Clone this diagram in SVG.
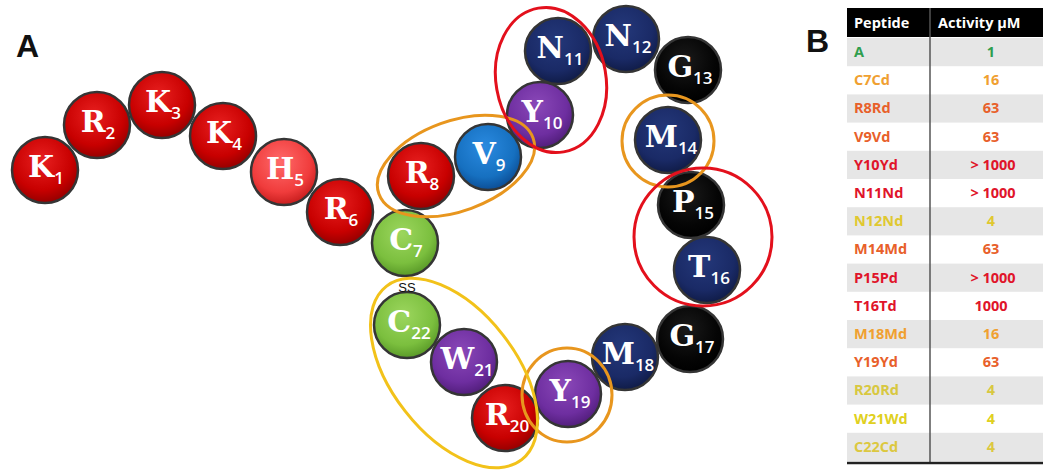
<svg xmlns="http://www.w3.org/2000/svg" width="1043" height="470" viewBox="0 0 1043 470">
<style>
.bead{stroke:#353535;stroke-width:2.5}
.L{font-family:"DejaVu Serif","Liberation Serif",serif;font-weight:bold;font-size:30px;fill:#fff;text-anchor:middle}
.s{font-family:"Open Sans","Liberation Sans",sans-serif;font-weight:600;font-size:17px}
.ring{fill:none;stroke-width:3}
.red{stroke:#e3101c}.org{stroke:#e8961e}.yel{stroke:#f2c21a}
.hd{font-family:"Open Sans","Liberation Sans",sans-serif;font-weight:bold;font-size:14.5px;fill:#fff}
.tp{font-family:"Open Sans","Liberation Sans",sans-serif;font-weight:bold;font-size:14.5px}
.tv{font-family:"Open Sans","Liberation Sans",sans-serif;font-weight:bold;font-size:14.5px;text-anchor:middle}
.lab{font-family:"Liberation Sans",Arial,sans-serif;font-weight:bold;font-size:32px;fill:#111}
</style>
<defs>
<radialGradient id="gR" cx="45%" cy="35%" r="65%"><stop offset="0" stop-color="#e82020"/><stop offset="0.7" stop-color="#c80000"/><stop offset="1" stop-color="#960000"/></radialGradient>
<radialGradient id="gH" cx="45%" cy="35%" r="65%"><stop offset="0" stop-color="#ff6a6a"/><stop offset="0.7" stop-color="#f03c3c"/><stop offset="1" stop-color="#c81e1e"/></radialGradient>
<radialGradient id="gG" cx="45%" cy="35%" r="65%"><stop offset="0" stop-color="#9cd65e"/><stop offset="0.7" stop-color="#7bbf3e"/><stop offset="1" stop-color="#5a9a28"/></radialGradient>
<radialGradient id="gB" cx="45%" cy="35%" r="65%"><stop offset="0" stop-color="#2a8ae0"/><stop offset="0.7" stop-color="#1670c0"/><stop offset="1" stop-color="#0c4e96"/></radialGradient>
<radialGradient id="gP" cx="45%" cy="35%" r="65%"><stop offset="0" stop-color="#8a48b8"/><stop offset="0.7" stop-color="#6e2ea0"/><stop offset="1" stop-color="#521e7c"/></radialGradient>
<radialGradient id="gN" cx="45%" cy="35%" r="65%"><stop offset="0" stop-color="#24387a"/><stop offset="0.7" stop-color="#1a2a66"/><stop offset="1" stop-color="#101c48"/></radialGradient>
<radialGradient id="gK" cx="45%" cy="35%" r="65%"><stop offset="0" stop-color="#1a1a1a"/><stop offset="0.7" stop-color="#050505"/><stop offset="1" stop-color="#000"/></radialGradient>
</defs>
<rect width="1043" height="470" fill="#fff"/>
<text class="lab" x="16" y="57">A</text>
<text class="lab" x="806" y="52">B</text>

<g id="nodes">
<g id="K1"><circle class="bead" cx="45" cy="170" r="33" fill="url(#gR)"/><text class="L" x="46" y="177">K<tspan class="s" dy="7">1</tspan></text></g>
<g id="R2"><circle class="bead" cx="97" cy="125" r="33" fill="url(#gR)"/><text class="L" x="98" y="132">R<tspan class="s" dy="7">2</tspan></text></g>
<g id="K3"><circle class="bead" cx="162" cy="105" r="33" fill="url(#gR)"/><text class="L" x="163" y="112">K<tspan class="s" dy="7">3</tspan></text></g>
<g id="K4"><circle class="bead" cx="223" cy="136" r="33" fill="url(#gR)"/><text class="L" x="224" y="143">K<tspan class="s" dy="7">4</tspan></text></g>
<g id="H5"><circle class="bead" cx="284" cy="172" r="33" fill="url(#gH)"/><text class="L" x="285" y="179">H<tspan class="s" dy="7">5</tspan></text></g>
<g id="R6"><circle class="bead" cx="340" cy="212" r="33" fill="url(#gR)"/><text class="L" x="341" y="219">R<tspan class="s" dy="7">6</tspan></text></g>
<g id="C7"><circle class="bead" cx="405" cy="243" r="33" fill="url(#gG)"/><text class="L" x="406" y="250">C<tspan class="s" dy="7">7</tspan></text></g>
<g id="R8"><circle class="bead" cx="421" cy="176" r="33" fill="url(#gR)"/><text class="L" x="422" y="183">R<tspan class="s" dy="7">8</tspan></text></g>
<g id="V9"><circle class="bead" cx="488" cy="157" r="33" fill="url(#gB)"/><text class="L" x="489" y="164">V<tspan class="s" dy="7">9</tspan></text></g>
<g id="Y10"><circle class="bead" cx="540" cy="115" r="33" fill="url(#gP)"/><text class="L" x="542" y="122">Y<tspan class="s" dy="7">10</tspan></text></g>
<g id="N11"><circle class="bead" cx="558" cy="51" r="33" fill="url(#gN)"/><text class="L" x="560" y="58">N<tspan class="s" dy="7">11</tspan></text></g>
<g id="N12"><circle class="bead" cx="626" cy="39" r="33" fill="url(#gN)"/><text class="L" x="628" y="46">N<tspan class="s" dy="7">12</tspan></text></g>
<g id="G13"><circle class="bead" cx="688" cy="70" r="33" fill="url(#gK)"/><text class="L" x="690" y="77">G<tspan class="s" dy="7">13</tspan></text></g>
<g id="M14"><circle class="bead" cx="668" cy="140" r="33" fill="url(#gN)"/><text class="L" x="671" y="147">M<tspan class="s" dy="7">14</tspan></text></g>
<g id="P15"><circle class="bead" cx="691" cy="205" r="33" fill="url(#gK)"/><text class="L" x="693" y="212">P<tspan class="s" dy="7">15</tspan></text></g>
<g id="T16"><circle class="bead" cx="707" cy="270" r="33" fill="url(#gN)"/><text class="L" x="709" y="277">T<tspan class="s" dy="7">16</tspan></text></g>
<g id="G17"><circle class="bead" cx="690" cy="339" r="33" fill="url(#gK)"/><text class="L" x="692" y="346">G<tspan class="s" dy="7">17</tspan></text></g>
<g id="M18"><circle class="bead" cx="625" cy="357" r="33" fill="url(#gN)"/><text class="L" x="628" y="364">M<tspan class="s" dy="7">18</tspan></text></g>
<g id="Y19"><circle class="bead" cx="568" cy="394" r="33" fill="url(#gP)"/><text class="L" x="570" y="401">Y<tspan class="s" dy="7">19</tspan></text></g>
<g id="R20"><circle class="bead" cx="505" cy="418" r="33" fill="url(#gR)"/><text class="L" x="507" y="425">R<tspan class="s" dy="7">20</tspan></text></g>
<g id="W21"><circle class="bead" cx="464" cy="362" r="33" fill="url(#gP)"/><text class="L" x="467" y="369">W<tspan class="s" dy="7">21</tspan></text></g>
<g id="C22"><circle class="bead" cx="407" cy="325" r="33" fill="url(#gG)"/><text class="L" x="409" y="332">C<tspan class="s" dy="7">22</tspan></text></g>
</g>

<g id="connectors">
<text x="407" y="292" text-anchor="middle" font-family="Liberation Sans,Arial,sans-serif" font-size="13" fill="#111">SS</text>
</g>

<g id="highlights">
<ellipse class="ring org" cx="456" cy="166" rx="82" ry="45" transform="rotate(-20 456 166)"/>
<ellipse class="ring red" cx="551" cy="80" rx="55" ry="73" transform="rotate(-10 551 80)"/>
<circle class="ring org" cx="668" cy="141" r="46"/>
<ellipse class="ring red" cx="703" cy="237" rx="69" ry="69"/>
<ellipse class="ring org" cx="567" cy="395" rx="45" ry="47"/>
<ellipse class="ring yel" cx="454" cy="373" rx="110" ry="62" transform="rotate(52 454 373)"/>
</g>

<g id="table">
<rect x="847" y="8" width="196" height="29" fill="#000"/>
<rect x="847" y="38" width="196" height="28.2" fill="#e6e6e6"/>
<rect x="847" y="94.4" width="196" height="28.2" fill="#e6e6e6"/>
<rect x="847" y="150.8" width="196" height="28.2" fill="#e6e6e6"/>
<rect x="847" y="207.2" width="196" height="28.2" fill="#e6e6e6"/>
<rect x="847" y="263.6" width="196" height="28.2" fill="#e6e6e6"/>
<rect x="847" y="320" width="196" height="28.2" fill="#e6e6e6"/>
<rect x="847" y="376.4" width="196" height="28.2" fill="#e6e6e6"/>
<rect x="847" y="432.8" width="196" height="28.2" fill="#e6e6e6"/>
<line x1="930" y1="8" x2="930" y2="464" stroke="#555" stroke-width="1.5"/>
<line x1="847" y1="463" x2="1043" y2="463" stroke="#222" stroke-width="2.5"/>
<text class="hd" x="854" y="28">Peptide</text>
<text class="hd" x="938" y="28">Activity µM</text>
<g class="tp">
<text x="854" y="57" fill="#2f9e4e">A</text>
<text x="854" y="85" fill="#f0a030">C7Cd</text>
<text x="854" y="113" fill="#e8602a">R8Rd</text>
<text x="854" y="142" fill="#e8602a">V9Vd</text>
<text x="854" y="170" fill="#e0142a">Y10Yd</text>
<text x="854" y="198" fill="#e0142a">N11Nd</text>
<text x="854" y="226" fill="#e0c830">N12Nd</text>
<text x="854" y="254" fill="#e8602a">M14Md</text>
<text x="854" y="283" fill="#e0142a">P15Pd</text>
<text x="854" y="311" fill="#e0142a">T16Td</text>
<text x="854" y="339" fill="#f0a030">M18Md</text>
<text x="854" y="367" fill="#e8602a">Y19Yd</text>
<text x="854" y="395" fill="#d8c840">R20Rd</text>
<text x="854" y="424" fill="#e0d020">W21Wd</text>
<text x="854" y="452" fill="#dcc840">C22Cd</text>
</g>
<g class="tv">
<text x="991" y="57" fill="#2f9e4e">1</text>
<text x="991" y="85" fill="#f0a030">16</text>
<text x="991" y="113" fill="#e8602a">63</text>
<text x="991" y="142" fill="#e8602a">63</text>
<text x="993" y="170" fill="#e0142a">&gt; 1000</text>
<text x="993" y="198" fill="#e0142a">&gt; 1000</text>
<text x="991" y="226" fill="#e0c830">4</text>
<text x="991" y="254" fill="#e8602a">63</text>
<text x="993" y="283" fill="#e0142a">&gt; 1000</text>
<text x="991" y="311" fill="#e0142a">1000</text>
<text x="991" y="339" fill="#f0a030">16</text>
<text x="991" y="367" fill="#e8602a">63</text>
<text x="991" y="395" fill="#d8c840">4</text>
<text x="991" y="424" fill="#e0d020">4</text>
<text x="991" y="452" fill="#dcc840">4</text>
</g>
</g>
</svg>
